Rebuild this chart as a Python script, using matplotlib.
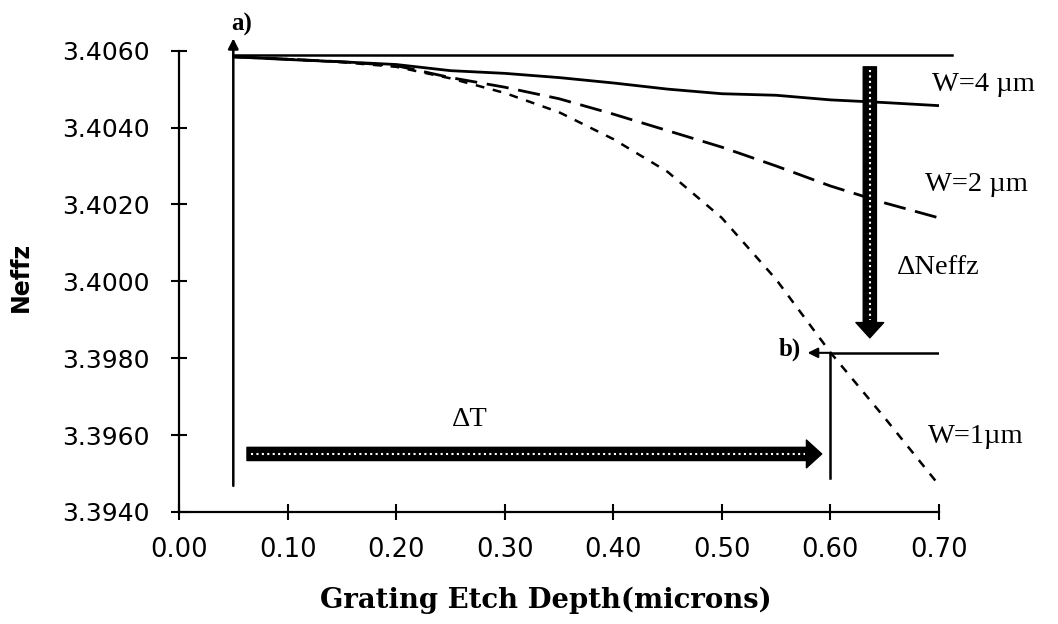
import matplotlib
matplotlib.use("Agg")
import matplotlib.pyplot as plt
from matplotlib.patches import ArrowStyle

# Grating etch depth (microns) and effective index for each waveguide width
depth = [0.05, 0.10, 0.15, 0.20, 0.25, 0.30, 0.35, 0.40, 0.45, 0.50, 0.55, 0.60, 0.65, 0.70]
neff_w4 = [3.40584, 3.40577, 3.40571, 3.40564, 3.40548, 3.40541, 3.40530, 3.40516,
           3.40500, 3.40488, 3.40484, 3.40472, 3.40465, 3.40457]
neff_w2 = [3.40584, 3.40578, 3.40571, 3.40561, 3.40530, 3.40505, 3.40475, 3.40435,
           3.40392, 3.40349, 3.40300, 3.40248, 3.40204, 3.40165]
neff_w1 = [3.40584, 3.40578, 3.40570, 3.40558, 3.40528, 3.40490, 3.40440, 3.40370,
           3.40285, 3.40165, 3.40005, 3.39815, 3.39645, 3.39470]

x_ticks = [0.00, 0.10, 0.20, 0.30, 0.40, 0.50, 0.60, 0.70]
y_ticks = [3.3940, 3.3960, 3.3980, 3.4000, 3.4020, 3.4040, 3.4060]

# Reference points: a) start of etch, b) target depth / index
start_depth = 0.05
start_neff = 3.40590
target_depth = 0.60
target_neff = 3.39814

fig = plt.figure(figsize=(10.58, 6.24), dpi=100)
ax = fig.add_axes([0.1692, 0.1795, 0.7183, 0.7393])

ax.plot(depth, neff_w4, color="black", lw=2.0, solid_capstyle="butt")
ax.plot(depth, neff_w2, color="black", lw=2.0, ls=(0, (8, 3.5)))
ax.plot(depth, neff_w1, color="black", lw=1.8, ls=(0, (3.5, 3.5)))

ax.set_xlim(0.0, 0.70)
ax.set_ylim(3.3940, 3.4060)
ax.set_xticks(x_ticks)
ax.set_xticklabels([f"{v:.2f}" for v in x_ticks], fontsize=18.5, family="DejaVu Sans")
ax.set_yticks(y_ticks)
ax.set_yticklabels([f"{v:.4f}" for v in y_ticks], fontsize=18, family="DejaVu Sans")
ax.tick_params(direction="inout", length=12, width=1.5, color="black")
ax.tick_params(axis="x", pad=12)
ax.tick_params(axis="y", pad=15)

for side in ("top", "right"):
    ax.spines[side].set_visible(False)
for side in ("left", "bottom"):
    ax.spines[side].set_linewidth(1.6)

ax.set_xlabel("Grating Etch Depth(microns)", family="DejaVu Serif", fontweight="bold",
              fontsize=19.8, va="center", ha="center")
ax.xaxis.set_label_coords(0.483, -0.191)
ax.set_ylabel("Neffz", family="DejaVu Sans", fontweight="bold", fontsize=17,
              va="center", ha="center")
ax.yaxis.set_label_coords(-0.208, 0.509)

# a) marker: vertical line at the start depth and the level it starts from
ax.plot([start_depth, 0.712], [start_neff, start_neff], color="black", lw=1.8, clip_on=False)
ax.annotate("", xy=(start_depth, 3.40632), xytext=(start_depth, 3.39468),
            arrowprops=dict(arrowstyle="-|>,head_length=0.5,head_width=0.25",
                            color="black", lw=1.8, shrinkA=0, shrinkB=0,
                            mutation_scale=12),
            annotation_clip=False)
ax.text(0.058, 3.40669, "a)", family="Liberation Serif", fontweight="bold",
        fontsize=18, ha="center", va="center", clip_on=False)

# b) marker: target depth and target index
ax.plot([target_depth, 0.70], [target_neff, target_neff], color="black", lw=1.8)
ax.plot([target_depth, target_depth], [target_neff, 3.39489], color="black", lw=1.8)
ax.annotate("", xy=(0.579, target_neff), xytext=(target_depth, target_neff),
            arrowprops=dict(arrowstyle="-|>,head_length=0.5,head_width=0.25",
                            color="black", lw=1.5, shrinkA=0, shrinkB=0,
                            mutation_scale=12))
ax.text(0.563, 3.39822, "b)", family="Liberation Serif", fontweight="bold",
        fontsize=18, ha="center", va="center")

# Thick hatched arrows for the depth change and the index change
big = ArrowStyle.Simple(head_length=11, head_width=20, tail_width=9.5)
ax.annotate("", xy=(0.592, 3.39551), xytext=(0.0626, 3.39551),
            arrowprops=dict(arrowstyle=big, color="black", shrinkA=0, shrinkB=0,
                            mutation_scale=1))
ax.plot([0.066, 0.577], [3.39551, 3.39551], color="white", lw=1.5,
        ls=(0, (1, 1.6)), zorder=5)
ax.annotate("", xy=(0.6363, 3.39853), xytext=(0.6363, 3.40558),
            arrowprops=dict(arrowstyle=big, color="black", shrinkA=0, shrinkB=0,
                            mutation_scale=1))
ax.plot([0.6363, 0.6363], [3.40550, 3.39900], color="white", lw=1.5,
        ls=(0, (1, 1.6)), zorder=5)

serif = dict(family="Liberation Serif", fontsize=20.5, va="center", ha="left")
ax.text(0.6934, 3.40511, "W=4 µm", **serif)
ax.text(0.687, 3.40251, "W=2 µm", **serif)
ax.text(0.661, 3.40035, "\u0394Neffz", **serif)
ax.text(0.690, 3.39596, "W=1µm", **serif)
ax.text(0.268, 3.39640, "\u0394T", family="Liberation Serif", fontsize=20.5,
        va="center", ha="center")

fig.savefig("out.png", dpi=100)
